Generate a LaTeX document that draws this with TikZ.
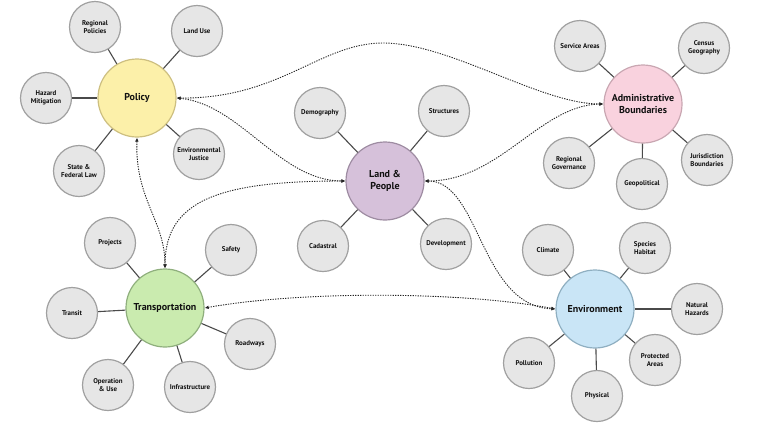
\documentclass[tikz,border=0pt]{standalone}
\usepackage{fontspec}
\setmainfont{PT Sans}
\usetikzlibrary{arrows.meta}
\definecolor{satfill}{HTML}{E6E6E6}
\definecolor{satdraw}{HTML}{A0A0A0}
\definecolor{polfill}{HTML}{FCF0A9}
\definecolor{poldraw}{HTML}{CDBF80}
\definecolor{lpfill}{HTML}{D6C1DA}
\definecolor{lpdraw}{HTML}{9E8CA2}
\definecolor{admfill}{HTML}{F9D2DE}
\definecolor{admdraw}{HTML}{C9A7B2}
\definecolor{trfill}{HTML}{CAEBAF}
\definecolor{trdraw}{HTML}{8FAF7D}
\definecolor{envfill}{HTML}{C9E5F6}
\definecolor{envdraw}{HTML}{8FAFC1}
\definecolor{spoke}{HTML}{4A4A4A}
\definecolor{txt}{HTML}{111111}
\begin{document}
\begin{tikzpicture}[x=1pt,y=-1pt,
  sat/.style={circle,draw=satdraw,fill=satfill,line width=1.2pt,minimum size=51pt,inner sep=0pt,align=center,text=txt,font=\bfseries\fontsize{6.9}{7.9}\selectfont},
  hub/.style={circle,line width=1.2pt,minimum size=78pt,inner sep=0pt,align=center,text=txt,font=\bfseries\fontsize{10}{12}\selectfont},
  link/.style={draw=spoke,line width=1.1pt},
  rel/.style={draw=black!85,line width=0.9pt,dash pattern=on 1.3pt off 1.2pt,{Latex[length=4pt,width=3.6pt]}-{Latex[length=4pt,width=3.6pt]}}
]
\useasboundingbox (0,0) rectangle (768,432);
% hubs
\node[hub,fill=polfill,draw=poldraw] (pol) at (137,98) {Policy};
\node[hub,fill=lpfill,draw=lpdraw] (lp) at (385,181) {Land \&\\People};
\node[hub,fill=admfill,draw=admdraw] (adm) at (643,104) {Administrative\\Boundaries};
\node[hub,fill=trfill,draw=trdraw] (tr) at (165,308) {Transportation};
\node[hub,fill=envfill,draw=envdraw] (env) at (595,309) {Environment};
% policy satellites
\node[sat] (p1) at (95,27) {Regional\\Policies};
\node[sat] (p2) at (197,31) {Land Use};
\node[sat] (p3) at (46,98) {Hazard\\Mitigation};
\node[sat] (p4) at (79,171) {State \&\\Federal Law};
\node[sat] (p5) at (199,154) {Environmental\\Justice};
% land & people satellites
\node[sat] (l1) at (320,113) {Demography};
\node[sat] (l2) at (444,111) {Structures};
\node[sat] (l3) at (323,246) {Cadastral};
\node[sat] (l4) at (446,244) {Development};
% admin satellites
\node[sat] (a1) at (580,46) {Service Areas};
\node[sat] (a2) at (704,48) {Census\\Geography};
\node[sat] (a3) at (569,163) {Regional\\Governance};
\node[sat] (a4) at (642,184) {Geopolitical};
\node[sat] (a5) at (707,160) {Jurisdiction\\Boundaries};
% transportation satellites
\node[sat] (t1) at (110,243) {Projects};
\node[sat] (t2) at (231,250) {Safety};
\node[sat] (t3) at (72,313) {Transit};
\node[sat] (t4) at (250,344) {Roadways};
\node[sat] (t5) at (108,385) {Operation\\\& Use};
\node[sat] (t6) at (190,387) {Infrastructure};
% environment satellites
\node[sat] (e1) at (548,250) {Climate};
\node[sat] (e2) at (645,248) {Species\\Habitat};
\node[sat] (e3) at (697,309) {Natural\\Hazards};
\node[sat] (e4) at (529,363) {Pollution};
\node[sat] (e5) at (655,360) {Protected\\Areas};
\node[sat] (e6) at (597,396) {Physical};
% spokes
\foreach \s in {p1,p2,p3,p4,p5} \draw[link] (pol) -- (\s);
\foreach \s in {l1,l2,l3,l4} \draw[link] (lp) -- (\s);
\foreach \s in {a1,a2,a3,a4,a5} \draw[link] (adm) -- (\s);
\foreach \s in {t1,t2,t3,t4,t5,t6} \draw[link] (tr) -- (\s);
\foreach \s in {e1,e2,e3,e4,e5,e6} \draw[link] (env) -- (\s);
% relations
\coordinate (peak) at (383,43);
\draw[rel] (pol.east) .. controls (280,99) and (320,43) .. (peak) .. controls (450,43) and (540,104) .. (adm.west);
\draw[rel] (pol.east) .. controls (240,104) and (280,181) .. (lp.west);
\draw[rel] (adm.west) .. controls (540,105) and (500,181) .. (lp.east);
\draw[rel] (pol.south) .. controls (135,200) and (165,220) .. (tr.north);
\draw[rel] (tr.north) .. controls (165,200) and (220,181) .. (lp.west);
\draw[rel] (tr.east) .. controls (300,291) and (460,291) .. (env.west);
\draw[rel] (lp.east) .. controls (480,181) and (480,306) .. (env.west);
\end{tikzpicture}
\end{document}
